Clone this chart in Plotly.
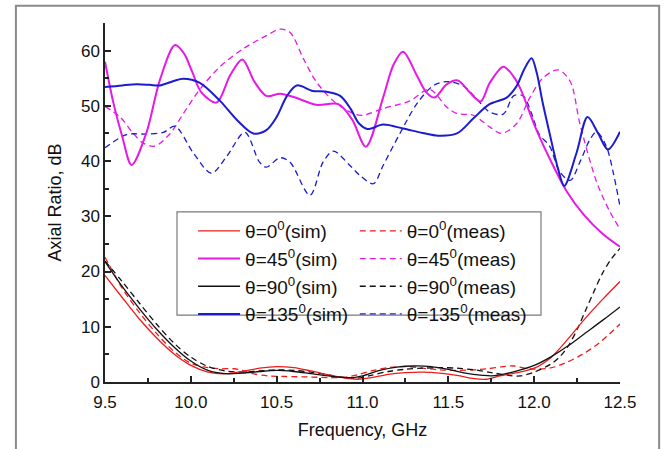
import plotly.graph_objects as go

# ---------------- data ----------------
f_m45_sim = [9.5, 9.55, 9.6, 9.655, 9.74, 9.82, 9.908, 9.96, 10.01, 10.06, 10.15, 10.23, 10.30, 10.37,
             10.44, 10.52, 10.6, 10.73, 10.86, 10.94, 11.02, 11.12, 11.18, 11.236, 11.315, 11.373,
             11.42, 11.49, 11.555, 11.626, 11.688, 11.742, 11.82, 11.878, 11.917, 12.014, 12.11,
             12.19, 12.286, 12.4, 12.5]
v_m45_sim = [58.0, 50.4, 44.5, 39.3, 45.0, 54.7, 61.0, 59.5, 56.0, 52.5, 50.6, 55.6, 58.4, 54.4,
             51.8, 52.2, 51.6, 50.2, 50.3, 47.5, 42.6, 51.5, 57.4, 59.8, 55.6, 52.4,
             51.5, 53.9, 54.6, 52.4, 50.8, 54.2, 57.1, 55.4, 53.3, 45.6, 39.2,
             34.5, 30.4, 26.8, 24.5]

f_b135_sim = [9.5, 9.6, 9.685, 9.76, 9.82, 9.9, 9.956, 10.05, 10.17, 10.27, 10.364, 10.44, 10.5,
              10.56, 10.617, 10.71, 10.78, 10.87, 10.93, 10.98, 11.03, 11.12, 11.236, 11.35,
              11.44, 11.55, 11.645, 11.74, 11.84, 11.898, 11.94, 11.985, 12.013, 12.05, 12.09,
              12.14, 12.175, 12.247, 12.311, 12.373, 12.43, 12.5]
v_b135_sim = [53.4, 53.7, 53.9, 53.8, 53.7, 54.5, 54.9, 54.2, 50.9, 47.4, 45.0, 45.6, 48.0,
              51.8, 53.7, 52.7, 52.6, 51.8, 49.5, 46.8, 45.8, 46.6, 45.9, 45.1,
              44.6, 45.0, 47.7, 50.3, 51.5, 53.6, 56.5, 58.6, 56.2, 50.5, 45.0,
              38.5, 35.5, 41.5, 48.0, 45.0, 42.1, 45.3]

f_m45_meas = [9.5, 9.587, 9.665, 9.72, 9.79, 9.88, 9.956, 10.053, 10.17, 10.305, 10.44, 10.52,
              10.578, 10.655, 10.73, 10.83, 10.946, 11.0, 11.12, 11.276, 11.39, 11.49, 11.55,
              11.645, 11.74, 11.81, 11.898, 11.975, 12.053, 12.14, 12.21, 12.266, 12.364,
              12.44, 12.5]
v_m45_meas = [49.9, 48.0, 45.0, 43.3, 42.7, 45.0, 48.6, 53.0, 57.1, 60.35, 62.7, 63.9,
              63.3, 58.6, 54.4, 50.9, 48.6, 48.3, 49.5, 50.9, 53.0, 49.8, 48.6,
              48.3, 46.2, 45.0, 46.8, 51.5, 55.1, 56.5, 54.4, 46.8, 36.2,
              30.9, 27.7]

f_b135_meas = [9.5, 9.626, 9.74, 9.84, 9.908, 10.014, 10.12, 10.21, 10.315, 10.40, 10.44, 10.52,
               10.578, 10.694, 10.77, 10.83, 10.927, 10.985, 11.063, 11.12, 11.218, 11.315,
               11.41, 11.49, 11.587, 11.684, 11.74, 11.82, 11.88, 11.936, 11.985, 12.03, 12.09,
               12.15, 12.21, 12.266, 12.325, 12.364, 12.42, 12.46, 12.5]
v_b135_meas = [42.4, 44.8, 44.9, 45.2, 46.3, 41.5, 37.8, 40.9, 45.2, 39.8, 38.9, 40.6,
               39.8, 33.8, 39.8, 41.8, 39.2, 37.4, 35.9, 39.2, 45.0, 50.3,
               53.6, 54.4, 53.6, 50.6, 48.9, 48.5, 51.8, 51.8, 48.6, 44.8, 42.7,
               38.0, 36.5, 39.8, 43.9, 45.3, 42.7, 38.0, 31.8]

f_r0_sim = [9.5, 9.6, 9.7, 9.8, 9.9, 10.0, 10.1, 10.2, 10.3, 10.4, 10.5, 10.6, 10.7, 10.8, 10.9,
            10.97, 11.05, 11.15, 11.25, 11.35, 11.45, 11.55, 11.65, 11.72, 11.8, 11.9, 12.0,
            12.1, 12.2, 12.3, 12.4, 12.5]
v_r0_sim = [19.3, 15.3, 11.4, 8.0, 5.1, 3.0, 1.8, 1.5, 1.9, 2.5, 2.8, 2.6, 2.0, 1.3, 0.7,
            0.5, 0.8, 1.4, 1.7, 1.8, 1.6, 1.2, 0.6, 0.5, 1.1, 1.7, 2.5,
            4.5, 7.9, 11.6, 15.0, 18.2]

f_k90_sim = [9.5, 9.6, 9.7, 9.8, 9.9, 10.0, 10.1, 10.2, 10.3, 10.4, 10.5, 10.6, 10.7, 10.8, 10.9,
             10.95, 11.0, 11.1, 11.2, 11.3, 11.4, 11.5, 11.6, 11.7, 11.75, 11.8, 11.9, 12.0,
             12.1, 12.2, 12.3, 12.4, 12.5]
v_k90_sim = [21.8, 17.3, 13.3, 9.6, 6.4, 3.8, 2.1, 1.5, 1.6, 1.9, 2.1, 1.9, 1.5, 1.1, 0.8,
             0.8, 1.1, 2.1, 2.7, 2.9, 2.8, 2.3, 1.6, 1.2, 1.1, 1.3, 2.0, 3.0,
             4.6, 6.6, 8.9, 11.2, 13.6]

f_r0_meas = [9.5, 9.6, 9.7, 9.8, 9.9, 10.0, 10.1, 10.17, 10.25, 10.3, 10.36, 10.45, 10.55, 10.7,
             10.8, 10.9, 10.97, 11.05, 11.15, 11.25, 11.35, 11.45, 11.55, 11.65, 11.73, 11.82,
             11.88, 11.97, 12.09, 12.185, 12.28, 12.38, 12.5]
v_r0_meas = [22.6, 17.0, 12.6, 8.8, 5.6, 3.4, 2.6, 2.4, 2.4, 2.1, 1.5, 1.1, 1.0, 0.9,
             0.8, 0.9, 1.3, 2.0, 2.6, 2.8, 2.5, 2.2, 2.1, 2.2, 2.4, 2.8,
             2.9, 2.4, 2.5, 3.5, 5.0, 7.1, 10.5]

f_k90_meas = [9.5, 9.6, 9.7, 9.8, 9.9, 10.0, 10.1, 10.2, 10.3, 10.4, 10.5, 10.6, 10.7, 10.8, 10.9,
              10.97, 11.05, 11.15, 11.25, 11.35, 11.45, 11.55, 11.65, 11.75, 11.85, 11.92, 12.0,
              12.1, 12.15, 12.2, 12.25, 12.3, 12.35, 12.4, 12.45, 12.5]
v_k90_meas = [21.9, 18.2, 14.3, 10.5, 7.1, 4.5, 2.8, 2.0, 1.8, 2.0, 2.2, 2.1, 1.8, 1.3, 0.8,
              0.7, 1.2, 1.9, 2.3, 2.5, 2.6, 2.5, 2.2, 1.7, 1.2, 1.1, 1.8,
              3.3, 4.6, 6.6, 9.5, 13.0, 16.5, 19.8, 22.3, 24.2]

names_sim = ["θ=0<sup>0</sup>(sim)", "θ=45<sup>0</sup>(sim)", "θ=90<sup>0</sup>(sim)", "θ=135<sup>0</sup>(sim)"]
names_meas = ["θ=0<sup>0</sup>(meas)", "θ=45<sup>0</sup>(meas)", "θ=90<sup>0</sup>(meas)", "θ=135<sup>0</sup>(meas)"]

x_range = [9.5, 12.5]
y_range = [0, 65]

# ---------------- styles ----------------
RED = "#f01a1a"
MAG = "#e619e6"
BLK = "#111111"
BLU = "#1c1ccf"
FONT = "Liberation Sans, Arial, sans-serif"
DASH = "6px,4px"

sim_series = [
    (f_r0_sim, v_r0_sim, RED, 1.3),
    (f_m45_sim, v_m45_sim, MAG, 2.0),
    (f_k90_sim, v_k90_sim, BLK, 1.3),
    (f_b135_sim, v_b135_sim, BLU, 2.0),
]
meas_series = [
    (f_r0_meas, v_r0_meas, RED, 1.3),
    (f_m45_meas, v_m45_meas, MAG, 1.3),
    (f_k90_meas, v_k90_meas, BLK, 1.3),
    (f_b135_meas, v_b135_meas, BLU, 1.3),
]

fig = go.Figure()
for (fx, vy, col, w), nm in zip(meas_series, names_meas):
    fig.add_trace(go.Scatter(x=fx, y=vy, mode="lines", name=nm, legend="legend2",
                             line=dict(color=col, width=w, dash=DASH, shape="spline", smoothing=0.9)))
for (fx, vy, col, w), nm in zip(sim_series, names_sim):
    fig.add_trace(go.Scatter(x=fx, y=vy, mode="lines", name=nm, legend="legend",
                             line=dict(color=col, width=w, shape="spline", smoothing=0.9)))

legend_common = dict(
    bgcolor="rgba(0,0,0,0)", borderwidth=0, font=dict(family=FONT, size=19, color="#111"),
    itemwidth=42, xanchor="left", yanchor="top", traceorder="normal", orientation="v",
)
fig.update_layout(
    legend=dict(x=0.171, y=0.4735, **legend_common),
    legend2=dict(x=0.485, y=0.4735, **legend_common),
)

fig.update_layout(
    width=669, height=449,
    margin=dict(l=105, r=49, t=23, b=57),
    paper_bgcolor="white", plot_bgcolor="white",
    font=dict(family=FONT, color="#111"),
    shapes=[
        # legend box
        dict(type="rect", xref="paper", yref="paper", x0=0.1398, x1=0.8466, y0=0.1863, y1=0.4738,
             line=dict(color="#7a7a7a", width=1.2), fillcolor="white", layer="above"),
        # outer frame of the figure image
        dict(type="rect", xref="paper", yref="paper", x0=-0.173, x1=1.076, y0=-0.3, y1=1.048,
             line=dict(color="#8a8a8a", width=2), fillcolor="rgba(0,0,0,0)", layer="above"),
    ],
)

fig.update_xaxes(
    range=x_range, dtick=0.5, tick0=9.5, tickformat=".1f",
    showgrid=False, zeroline=False, showline=True, linecolor="#222", linewidth=1.5,
    ticks="inside", ticklen=6, tickwidth=1.5, tickcolor="#222", ticklabelstandoff=4,
    tickfont=dict(family=FONT, size=17, color="#111"),
    minor=dict(dtick=0.25, ticks="inside", ticklen=4, tickwidth=1.5, tickcolor="#222", showgrid=False),
    title=dict(text="Frequency, GHz", font=dict(family=FONT, size=18, color="#111"), standoff=12),
    mirror=False,
)
fig.update_yaxes(
    range=y_range, dtick=10, tick0=0,
    showgrid=False, zeroline=False, showline=True, linecolor="#222", linewidth=1.5,
    ticks="inside", ticklen=6, tickwidth=1.5, tickcolor="#222",
    tickfont=dict(family=FONT, size=17, color="#111"),
    minor=dict(dtick=5, ticks="inside", ticklen=4, tickwidth=1.5, tickcolor="#222", showgrid=False),
    title=dict(text="Axial Ratio, dB", font=dict(family=FONT, size=18, color="#111"), standoff=15),
    mirror=False,
)

fig.write_html("out.html", config={"displayModeBar": False},
               post_script="document.body.style.margin='0px';")
